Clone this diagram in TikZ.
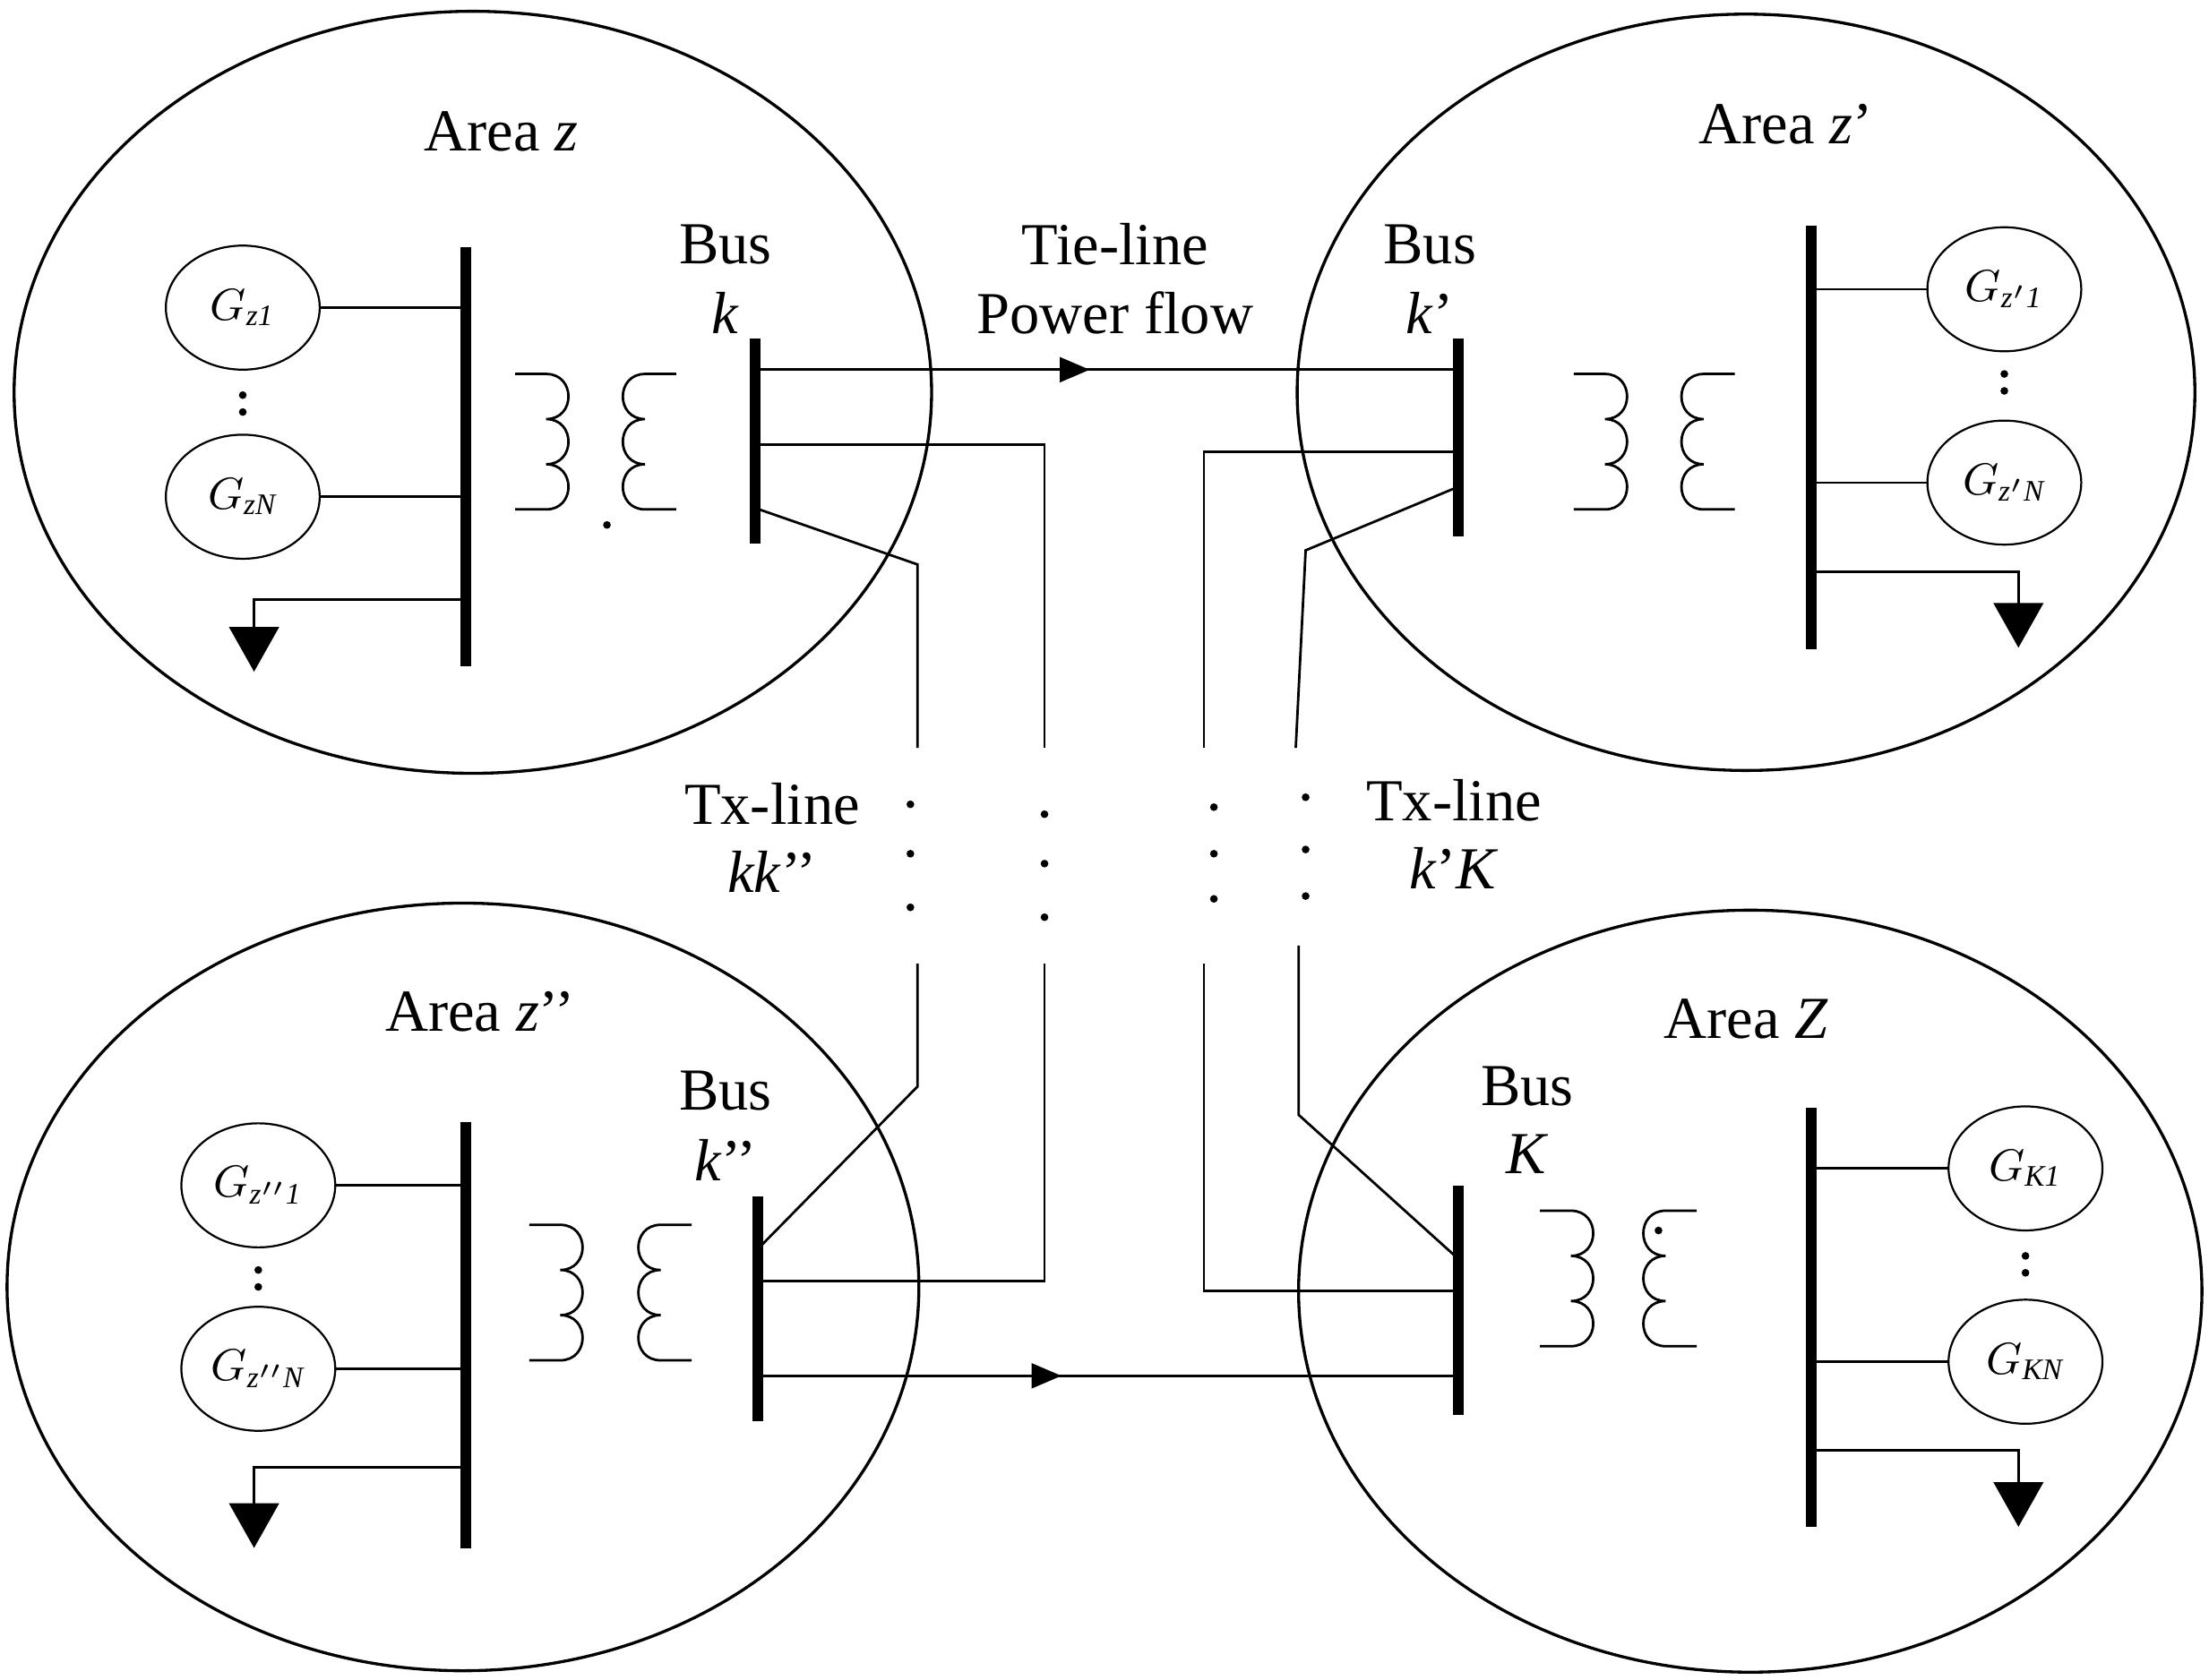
\documentclass[tikz,border=0pt]{standalone}
\usepackage{fontspec}
\setmainfont{Liberation Serif}
\usetikzlibrary{arrows.meta,shapes.geometric}
\begin{document}
\begin{tikzpicture}[x=0.01cm,y=-0.01cm,
  area/.style={draw,line width=0.6pt},
  bus/.style={line width=2.2pt},
  ln/.style={line width=0.5pt},
  gen/.style={draw,ellipse,minimum width=31pt,minimum height=25pt,inner sep=0pt,font=\fontsize{9}{10}\selectfont},
  lbl/.style={font=\fontsize{12}{13}\selectfont,inner sep=0pt},
  dt/.style={fill,circle,inner sep=0.55pt},
  load/.style={ln,-{Triangle[length=9pt,width=10pt]}},
  flow/.style={ln,-{Triangle[length=6pt,width=5pt]}}]
\useasboundingbox (0,0) rectangle (1565,1190);
\newcommand{\coilR}[2]{\draw[ln] (#1-22,#2) -- (#1,#2)
  .. controls (#1+21,#2) and (#1+21,#2+32) .. (#1,#2+32)
  .. controls (#1+21,#2+32) and (#1+21,#2+64) .. (#1,#2+64)
  .. controls (#1+21,#2+64) and (#1+21,#2+96) .. (#1,#2+96) -- (#1-22,#2+96);}
\newcommand{\coilL}[2]{\draw[ln] (#1+22,#2) -- (#1,#2)
  .. controls (#1-21,#2) and (#1-21,#2+32) .. (#1,#2+32)
  .. controls (#1-21,#2+32) and (#1-21,#2+64) .. (#1,#2+64)
  .. controls (#1-21,#2+64) and (#1-21,#2+96) .. (#1,#2+96) -- (#1+22,#2+96);}
\draw[area] (335,278) ellipse [x radius=325,y radius=270];
\draw[area] (1237,278) ellipse [x radius=318,y radius=268];
\draw[area] (328,912) ellipse [x radius=323,y radius=272];
\draw[area] (1240,915) ellipse [x radius=320,y radius=270];
% ===== top-left
\node[lbl] at (355,93) {Area \textit{z}};
\draw[bus] (330,175) -- (330,472);
\node[gen] (g1) at (172,218) {$G_{\mathit{z1}}$};
\node[gen] (g2) at (172,352) {$G_{\mathit{zN}}$};
\draw[ln] (g1.east) -- (330,218);
\draw[ln] (g2.east) -- (330,352);
\node[dt] at (172,280) {}; \node[dt] at (172,292) {};
\draw[load] (330,425) -- (180,425) -- (180,476);
\coilR{387}{265} \coilL{457}{265}
\node[dt] at (430,372) {};
\draw[bus] (535,240) -- (535,385);
\node[lbl] at (514,173) {Bus};
\node[lbl] at (514,222) {\textit{k}};
\draw[flow] (535,262) -- (772,262); \draw[ln] (765,262) -- (1033,262);
\node[lbl] at (790,173) {Tie-line};
\node[lbl] at (790,222) {Power flow};
\draw[ln] (535,315) -- (740,315) -- (740,530);
\draw[ln] (535,360) -- (650,400) -- (650,530);
\draw[ln] (1033,320) -- (853,320) -- (853,530);
\draw[ln] (1033,345) -- (925,390) -- (918,530);
\foreach \y in {570,605,643} \node[dt] at (645,\y) {};
\foreach \y in {577,612,650} \node[dt] at (740,\y) {};
\foreach \y in {572,605,637} \node[dt] at (860,\y) {};
\foreach \y in {565,602,635} \node[dt] at (925,\y) {};
\node[lbl] at (547,570) {Tx-line};
\node[lbl] at (547,618) {\textit{kk}’’};
\node[lbl] at (1030,567) {Tx-line};
\node[lbl] at (1030,615) {\textit{k}’\textit{K}};
% ===== top-right
\node[lbl] at (1265,88) {Area \textit{z}’};
\draw[bus] (1033,240) -- (1033,380);
\node[lbl] at (1013,173) {Bus};
\node[lbl] at (1013,222) {\textit{k}’};
\coilR{1137}{265} \coilL{1207}{265}
\draw[bus] (1283,160) -- (1283,460);
\node[gen] (g3) at (1420,205) {$G_{\mathit{z'1}}$};
\node[gen] (g4) at (1420,342) {$G_{\mathit{z'N}}$};
\draw[ln] (1283,205) -- (g3.west);
\draw[ln] (1283,342) -- (g4.west);
\node[dt] at (1420,265) {}; \node[dt] at (1420,277) {};
\draw[load] (1283,405) -- (1430,405) -- (1430,459);
% ===== bottom-left
\node[lbl] at (340,717) {Area \textit{z}’’};
\draw[bus] (330,795) -- (330,1097);
\node[gen] (g5) at (183,840) {$G_{\mathit{z''1}}$};
\node[gen] (g6) at (183,970) {$G_{\mathit{z''N}}$};
\draw[ln] (g5.east) -- (330,840);
\draw[ln] (g6.east) -- (330,970);
\node[dt] at (183,900) {}; \node[dt] at (183,912) {};
\draw[load] (330,1040) -- (180,1040) -- (180,1097);
\coilR{397}{868} \coilL{468}{868}
\draw[bus] (537,848) -- (537,1007);
\node[lbl] at (514,773) {Bus};
\node[lbl] at (514,822) {\textit{k}’’};
\draw[ln] (537,885) -- (650,770) -- (650,683);
\draw[ln] (537,908) -- (740,908) -- (740,683);
\draw[flow] (537,975) -- (752,975); \draw[ln] (745,975) -- (1033,975);
% ===== bottom-right
\node[lbl] at (1237,722) {Area \textit{Z}};
\node[lbl] at (1082,770) {Bus};
\node[lbl] at (1082,818) {\textit{K}};
\draw[bus] (1033,840) -- (1033,1003);
\draw[ln] (1033,892) -- (920,790) -- (920,670);
\draw[ln] (1033,915) -- (853,915) -- (853,683);
\coilR{1113}{858} \coilL{1180}{858}
\node[dt] at (1175,872) {};
\draw[bus] (1283,785) -- (1283,1082);
\node[gen] (g7) at (1435,828) {$G_{\mathit{K1}}$};
\node[gen] (g8) at (1435,965) {$G_{\mathit{KN}}$};
\draw[ln] (1283,828) -- (g7.west);
\draw[ln] (1283,965) -- (g8.west);
\node[dt] at (1435,890) {}; \node[dt] at (1435,902) {};
\draw[load] (1283,1028) -- (1430,1028) -- (1430,1082);
\end{tikzpicture}
\end{document}
